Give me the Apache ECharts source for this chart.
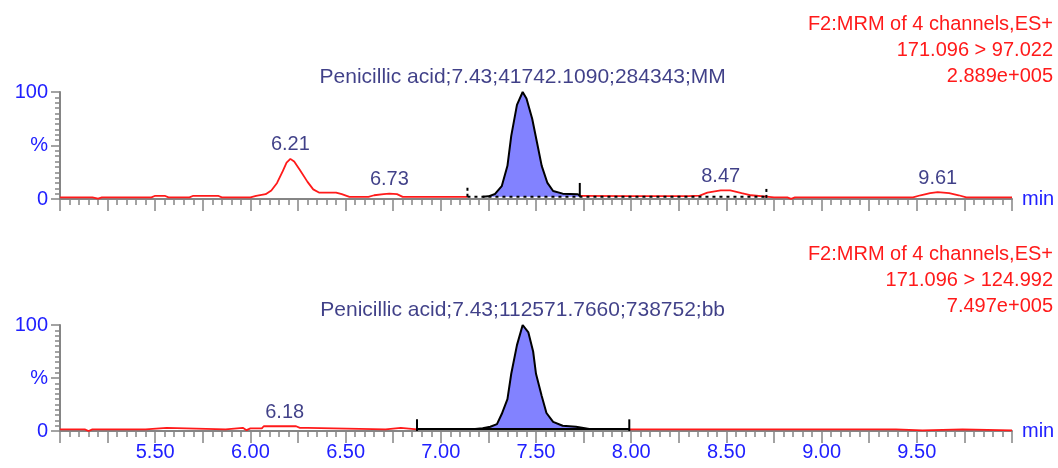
<!DOCTYPE html>
<html>
<head>
<meta charset="utf-8">
<title>Penicillic acid MRM chromatograms</title>
<script src="https://cdn.jsdelivr.net/npm/echarts@6/dist/echarts.min.js"></script>
<style>
  html, body { margin: 0; padding: 0; background: #ffffff; }
  #chart { width: 1058px; height: 468px; }
</style>
</head>
<body>
<div id="chart"></div>
<script>
// ---- Channel 1: 171.096 > 97.022 ----
const topTimes = [5.00, 5.17, 5.20, 5.22, 5.48, 5.50, 5.55, 5.57, 5.68, 5.70, 5.83, 5.85, 6.00, 6.03, 6.08, 6.11, 6.14, 6.17, 6.19, 6.21, 6.23, 6.26, 6.30, 6.33, 6.36, 6.45, 6.48, 6.52, 6.62, 6.65, 6.70, 6.73, 6.77, 6.80, 7.14, 7.22, 7.25, 7.285, 7.32, 7.35, 7.37, 7.40, 7.43, 7.45, 7.48, 7.505, 7.53, 7.56, 7.59, 7.64, 7.72, 7.73, 8.00, 8.30, 8.36, 8.40, 8.47, 8.52, 8.58, 8.63, 8.71, 8.75, 8.82, 8.84, 8.86, 9.48, 9.52, 9.57, 9.61, 9.67, 9.72, 9.76, 10.00];
const topSignal = [1.5, 1.5, 0.3, 1.5, 1.5, 3.0, 3.0, 1.5, 1.5, 3.0, 3.0, 1.5, 1.5, 3.0, 4.5, 8, 15, 26, 34, 37.5, 35, 27, 16, 9, 6, 6, 4.5, 2, 2, 3.5, 4.5, 5, 4.5, 2, 2, 2, 2.5, 4.7, 12, 31, 59, 88, 100, 94, 75, 53, 31, 15, 7.5, 5, 4.4, 3.0, 2.6, 2.6, 3.2, 6, 8, 8, 5.5, 3.5, 2.3, 1.5, 1.5, 0.2, 1.5, 1.5, 3.5, 5.5, 6.5, 5.5, 3.5, 1.5, 1.5];
const topPeakTimes = [6.21, 6.73, 8.47, 9.61];
const topMainPeak = ['Penicillic acid', '7.43', '41742.1090', '284343', 'MM'];
const topWindow = [7.14, 7.73];      // integrated peak start / end (min)
const topBaselineEnd = 8.71;         // dotted baseline runs on to here
const topBaseline = 2;               // baseline level (%)
const topHeader = ['F2:MRM of 4 channels,ES+', '171.096 > 97.022', '2.889e+005'];

// ---- Channel 2: 171.096 > 124.992 ----
const botTimes = [5.00, 5.13, 5.15, 5.17, 5.45, 5.46, 5.56, 5.57, 5.87, 5.88, 5.96, 5.98, 6.00, 6.06, 6.07, 6.18, 6.24, 6.26, 6.30, 6.31, 6.71, 6.72, 6.79, 6.80, 6.875, 7.18, 7.22, 7.26, 7.295, 7.32, 7.35, 7.37, 7.40, 7.43, 7.46, 7.485, 7.50, 7.53, 7.555, 7.59, 7.64, 7.71, 7.78, 7.99, 8.14, 8.15, 8.16, 9.39, 9.40, 9.53, 9.54, 9.74, 9.75, 10.00];
const botSignal = [1.5, 1.5, 0, 1.5, 1.5, 3, 3, 1.5, 1.5, 3, 3, 0.8, 2.5, 2.5, 4.5, 4.5, 4.5, 3, 3, 1.5, 1.5, 3, 3, 1.5, 1.5, 2, 2.5, 4, 6.5, 16, 30, 54, 81, 100, 93, 75, 54, 33, 17, 8.6, 5, 4, 2, 1.5, 1.5, 2.5, 1.5, 1.5, 0.5, 0.5, 1.5, 1.5, 0.5, 0.5];
const botPeakTimes = [6.18];
const botMainPeak = ['Penicillic acid', '7.43', '112571.7660', '738752', 'bb'];
const botWindow = [6.875, 7.99];
const botBaseline = 2;
const botHeader = ['F2:MRM of 4 channels,ES+', '171.096 > 124.992', '7.497e+005'];

// x-axis tick labels (every 0.5 min, none at the ends)
const xTickLabels = ['5.50', '6.00', '6.50', '7.00', '7.50', '8.00', '8.50', '9.00', '9.50'];

const FONT = '"Liberation Sans", Arial, sans-serif';
const RED = '#ff1a1a';
const BLUE = '#2020ff';
const NAVY = '#10106a';
const GREY = '#858585';
const FILL = '#8282ff';

function pairs(times, values, lo, hi) {
  const out = [];
  for (let i = 0; i < times.length; i++) {
    if (times[i] >= lo - 1e-9 && times[i] <= hi + 1e-9) out.push([times[i], values[i]]);
  }
  return out;
}

// part of the trace inside the window that rises off the baseline (+ one neighbour each side)
function peakOutline(times, values, win, base) {
  let first = -1, last = -1;
  for (let i = 0; i < times.length; i++) {
    if (times[i] >= win[0] - 1e-9 && times[i] <= win[1] + 1e-9 && values[i] > base + 0.1) {
      if (first < 0) first = i;
      last = i;
    }
  }
  const a = Math.max(first - 1, 0), b = Math.min(last + 1, times.length - 1);
  const out = [];
  for (let i = a; i <= b; i++) {
    if (times[i] >= win[0] - 1e-9 && times[i] <= win[1] + 1e-9) out.push([times[i], values[i]]);
  }
  return out;
}

function valueAt(times, values, t) {
  const i = times.findIndex(v => Math.abs(v - t) < 1e-9);
  return values[i];
}

function xAxisFor(idx, showLabels) {
  return {
    type: 'value', gridIndex: idx, min: 5, max: 10, interval: 0.25,
    axisLine: { show: true, onZero: false, lineStyle: { color: GREY, width: 2 } },
    axisTick: { show: true, length: 12, lineStyle: { color: GREY, width: 1.5 } },
    minorTick: { show: true, splitNumber: 5, length: 6, lineStyle: { color: GREY, width: 1.5 } },
    splitLine: { show: false }, minorSplitLine: { show: false },
    axisLabel: {
      show: showLabels, margin: 11, color: BLUE, fontSize: 20, fontFamily: FONT,
      formatter: v => { const s = v.toFixed(2); return xTickLabels.includes(s) ? s : ''; }
    },
    name: 'min', nameLocation: 'end', nameGap: 10,
    nameTextStyle: { color: BLUE, fontSize: 20, fontFamily: FONT, verticalAlign: 'middle', align: 'left' }
  };
}

function yAxisFor(idx) {
  return {
    type: 'value', gridIndex: idx, min: 0, max: 100, interval: 50,
    axisLine: { show: true, lineStyle: { color: GREY, width: 2 } },
    axisTick: { show: true, length: 9, lineStyle: { color: GREY, width: 1.5 } },
    minorTick: { show: true, splitNumber: 10, length: 5, lineStyle: { color: GREY, width: 1.5 } },
    splitLine: { show: false }, minorSplitLine: { show: false },
    axisLabel: {
      margin: 12, color: BLUE, fontSize: 20, fontFamily: FONT,
      formatter: v => v === 100 ? '100' : (v === 50 ? '%' : '0')
    }
  };
}

function channelSeries(idx, times, values, win, base, baselineEnd, markers, peakTimes, mainPeak) {
  const s = [];
  // raw trace outside the integrated peak
  s.push({ type: 'line', xAxisIndex: idx, yAxisIndex: idx, data: pairs(times, values, 5, win[0]),
    showSymbol: false, lineStyle: { color: RED, width: 1.8 }, z: 2, silent: true });
  s.push({ type: 'line', xAxisIndex: idx, yAxisIndex: idx, data: pairs(times, values, win[1], 10),
    showSymbol: false, lineStyle: { color: RED, width: 1.8 }, z: 2, silent: true });
  // integrated peak: filled down to the baseline, black outline
  s.push({ type: 'line', xAxisIndex: idx, yAxisIndex: idx, data: peakOutline(times, values, win, base),
    showSymbol: false, lineStyle: { color: '#000000', width: 2 },
    areaStyle: { color: FILL, opacity: 1, origin: base }, z: 3, silent: true });
  // baseline
  s.push({ type: 'line', xAxisIndex: idx, yAxisIndex: idx, data: [[win[0], base], [baselineEnd, base]],
    showSymbol: false, lineStyle: { color: '#000000', width: 2, type: baselineEnd > win[1] ? [3, 4] : 'solid' },
    z: 4, silent: true });
  // start / end markers
  markers.forEach(m => {
    s.push({ type: 'line', xAxisIndex: idx, yAxisIndex: idx, data: [[m.t, m.lo], [m.t, m.hi]],
      showSymbol: false, lineStyle: { color: '#000000', width: 2, type: m.dotted ? [3, 3] : 'solid' },
      z: 5, silent: true });
  });
  // retention-time labels on minor peaks
  s.push({ type: 'scatter', xAxisIndex: idx, yAxisIndex: idx, symbolSize: 0, silent: true, z: 6,
    data: peakTimes.map(t => [t, valueAt(times, values, t)]),
    label: { show: true, position: 'top', distance: 4, color: NAVY, fontSize: 20, fontFamily: FONT,
      formatter: p => p.value[0].toFixed(2) } });
  // identified compound label on the main peak
  const rt = parseFloat(mainPeak[1]);
  s.push({ type: 'scatter', xAxisIndex: idx, yAxisIndex: idx, symbolSize: 0, silent: true, z: 6,
    data: [[rt, valueAt(times, values, rt)]],
    label: { show: true, position: 'top', distance: 4, color: NAVY, fontSize: 21, fontFamily: FONT,
      formatter: () => mainPeak.join(';') } });
  return s;
}

const chart = echarts.init(document.getElementById('chart'), null, { renderer: 'canvas' });

const headerStyle = { color: RED, fontSize: 20, fontWeight: 'normal', fontFamily: FONT, lineHeight: 26, align: 'right' };

chart.setOption({
  animation: false,
  backgroundColor: '#ffffff',
  title: [
    { text: topHeader.join('\n'), left: 1053, top: 11, padding: 0, textAlign: 'right', textStyle: headerStyle },
    { text: botHeader.join('\n'), left: 1053, top: 241, padding: 0, textAlign: 'right', textStyle: headerStyle }
  ],
  grid: [
    { left: 60, top: 92, width: 952, height: 107 },
    { left: 60, top: 325, width: 952, height: 106 }
  ],
  xAxis: [xAxisFor(0, false), xAxisFor(1, true)],
  yAxis: [yAxisFor(0), yAxisFor(1)],
  series: [].concat(
    channelSeries(0, topTimes, topSignal, topWindow, topBaseline, topBaselineEnd,
      [{ t: topWindow[0], lo: 2, hi: 13, dotted: true },
       { t: topWindow[1], lo: 2, hi: 15, dotted: false },
       { t: topBaselineEnd, lo: 1, hi: 11, dotted: true }],
      topPeakTimes, topMainPeak),
    channelSeries(1, botTimes, botSignal, botWindow, botBaseline, botWindow[1],
      [{ t: botWindow[0], lo: 0, hi: 11, dotted: false },
       { t: botWindow[1], lo: 0, hi: 11, dotted: false }],
      botPeakTimes, botMainPeak)
  )
});
</script>
</body>
</html>
